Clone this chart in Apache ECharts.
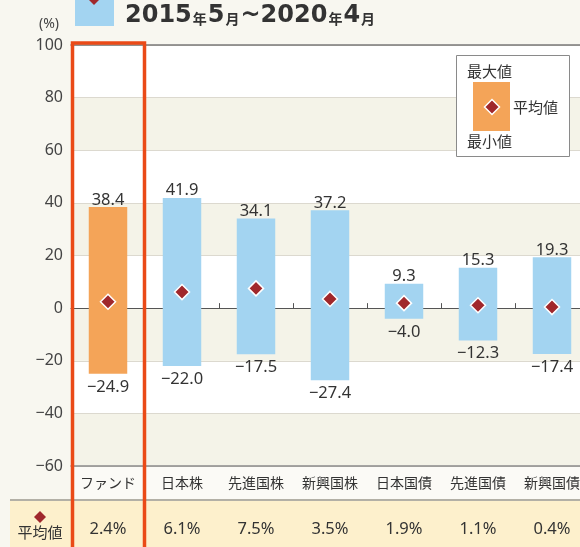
<!DOCTYPE html>
<html><head><meta charset="utf-8">
<script src="https://cdn.jsdelivr.net/npm/echarts@6/dist/echarts.min.js"></script>
<style>html,body{margin:0;padding:0;background:#f8f7f0;}#c{width:580px;height:547px;}</style>
</head><body><div id="c"></div>
<script>
const categories = ['ファンド','日本株','先進国株','新興国株','日本国債','先進国債','新興国債'];
const maxValues  = [38.4, 41.9, 34.1, 37.2, 9.3, 15.3, 19.3];
const minValues  = [-24.9, -22.0, -17.5, -27.4, -4.0, -12.3, -17.4];
const meanValues = [2.4, 6.1, 7.5, 3.5, 1.9, 1.1, 0.4];
const yTicks = {min: -60, max: 100, interval: 20};
const periodText = ['2015','年','5','月','~2020','年','4','月'];

const FONT = "'Noto Sans','Noto Sans CJK JP',sans-serif";
const JFONT = "'Noto Sans CJK JP',sans-serif";
const ORANGE = '#f4a458', BLUE = '#a3d4f1', RED = '#a0282c', TXT = '#333';
const fmt = v => (v < 0 ? '\u2212' + Math.abs(v).toFixed(1) : v.toFixed(1));

const chart = echarts.init(document.getElementById('c'), null, {renderer:'canvas'});
const gridLeft = 71, gridTop = 45, gridH = 421, catW = 74;

const option = {
  backgroundColor: '#f8f7f0',
  animation: false,
  grid: {left: gridLeft, top: gridTop, height: gridH, width: catW * categories.length, outerBoundsMode: 'none', containLabel: false},
  xAxis: [
    {type:'category', data: categories, position:'bottom',
     axisLine:{onZero:true, lineStyle:{color:'#555', width:1}},
     axisTick:{show:true, inside:true, length:5, lineStyle:{color:'#555'}},
     axisLabel:{show:false}, splitLine:{show:false}},
    {type:'category', data: categories, position:'bottom',
     axisLine:{onZero:false, lineStyle:{color:'#8a8a8a', width:1.5}},
     axisTick:{show:false},
     axisLabel:{fontSize:14, color:TXT, margin:10, fontFamily:JFONT}},
    {type:'category', data: meanValues.map(v => v.toFixed(1) + '%'), position:'bottom', offset:47,
     axisLine:{show:false, onZero:false}, axisTick:{show:false},
     axisLabel:{fontSize:16.5, color:TXT, margin:8, fontFamily:FONT}},
    {type:'category', data: categories, position:'top',
     axisLine:{onZero:false, lineStyle:{color:'#7a7a7a', width:1.5}},
     axisTick:{show:false}, axisLabel:{show:false}}
  ],
  yAxis: {type:'value', min:yTicks.min, max:yTicks.max, interval:yTicks.interval,
    axisLine:{show:false}, axisTick:{show:false},
    axisLabel:{fontSize:16, color:'#444', margin:8, fontFamily:FONT,
      formatter: v => (v < 0 ? '\u2212' + Math.abs(v) : String(v))},
    splitLine:{lineStyle:{color:'#dcd9cf', width:1}},
    splitArea:{show:true, areaStyle:{color:['#f4f3e8','#ffffff']}}},
  series: [
    {type:'custom', xAxisIndex:0, z:3,
     data: categories.map((c,i) => [i, minValues[i], maxValues[i]]),
     renderItem: (params, api) => {
       const i = api.value(0), lo = api.value(1), hi = api.value(2);
       const pLo = api.coord([i, lo]), pHi = api.coord([i, hi]);
       const bw = api.size([1,0])[0] * 0.52;
       return {type:'group', children:[
         {type:'rect', shape:{x:pHi[0]-bw/2, y:pHi[1], width:bw, height:pLo[1]-pHi[1]},
          style:{fill: i === 0 ? ORANGE : BLUE}},
         {type:'text', x:pHi[0], y:pHi[1]+1,
          style:{text:fmt(hi), align:'center', verticalAlign:'bottom', fontSize:16.5, fill:TXT, fontFamily:FONT}},
         {type:'text', x:pLo[0], y:pLo[1]+5,
          style:{text:fmt(lo), align:'center', verticalAlign:'top', fontSize:16.5, fill:TXT, fontFamily:FONT}}
       ]};
     }},
    {type:'scatter', xAxisIndex:0, z:5, symbol:'diamond', symbolSize:15,
     itemStyle:{color:RED, borderColor:'#fff', borderWidth:1.5, opacity:1},
     data: meanValues.map((v,i) => [i, v])}
  ]
};
chart.setOption(option);

const cx0 = chart.convertToPixel({xAxisIndex:1}, categories[0]);
const yTop = chart.convertToPixel({yAxisIndex:0}, yTicks.max);
const yBot = chart.convertToPixel({yAxisIndex:0}, yTicks.min);
const half = catW / 2;

const rich = {
  b:{fontSize:24, fontWeight:'bold', fontFamily:"'DejaVu Sans',sans-serif", color:'#333'},
  s:{fontSize:14, fontWeight:'bold', fontFamily:JFONT, color:'#333', padding:[6,1,0,1]}
};
const titleStr = periodText.map((t,i) => (i % 2 === 0 ? '{b|' : '{s|') + t + '}').join('');

chart.setOption({graphic: [
  {type:'rect', z:-1, shape:{x:gridLeft, y:yBot+1, width:580-gridLeft, height:34}, style:{fill:'#fbfaf6'}},
  {type:'rect', z:-1, shape:{x:10, y:yBot+34, width:580, height:60}, style:{fill:'#fdf0cc'}},
  {type:'line', z:1, shape:{x1:10, y1:yBot+34, x2:580, y2:yBot+34}, style:{stroke:'#b3b0a6', lineWidth:2}},
  {type:'polygon', z:2, shape:{points:[[40,511],[46,517],[40,523],[34,517]]}, style:{fill:RED}},
  {type:'text', z:2, x:40, y:532, style:{text:'平均値', align:'center', verticalAlign:'middle', fontSize:15, fill:TXT, fontFamily:JFONT}},
  {type:'rect', z:50, shape:{x:cx0-half+1.5, y:yTop-2, width:catW-2, height:600}, style:{fill:'none', stroke:'#ea4a17', lineWidth:3.5}},
  {type:'rect', z:2, shape:{x:75, y:-2, width:39, height:28}, style:{fill:BLUE}},
  {type:'polygon', z:3, shape:{points:[[86,-3],[94,5],[102,-3]]}, style:{fill:RED}},
  {type:'text', z:2, x:125, y:16, style:{text:titleStr, rich:rich, verticalAlign:'middle', fontSize:24, fill:'#333'}},
  {type:'text', z:2, x:49, y:24, style:{text:'(%)', align:'center', verticalAlign:'middle', fontSize:14, fill:'#444', fontFamily:FONT}},
  {type:'rect', z:10, shape:{x:456.5, y:55.5, width:113, height:101}, style:{fill:'#fff', stroke:'#8a8a8a', lineWidth:1}},
  {type:'text', z:11, x:467, y:71, style:{text:'最大値', verticalAlign:'middle', fontSize:15, fill:TXT, fontFamily:JFONT}},
  {type:'rect', z:11, shape:{x:473, y:82, width:37, height:49}, style:{fill:ORANGE}},
  {type:'polygon', z:12, shape:{points:[[492,99.5],[499.5,107],[492,114.5],[484.5,107]]}, style:{fill:RED, stroke:'#fff', lineWidth:1.5}},
  {type:'text', z:11, x:513, y:107, style:{text:'平均値', verticalAlign:'middle', fontSize:15, fill:TXT, fontFamily:JFONT}},
  {type:'text', z:11, x:467, y:141, style:{text:'最小値', verticalAlign:'middle', fontSize:15, fill:TXT, fontFamily:JFONT}}
]});
</script>
</body></html>
